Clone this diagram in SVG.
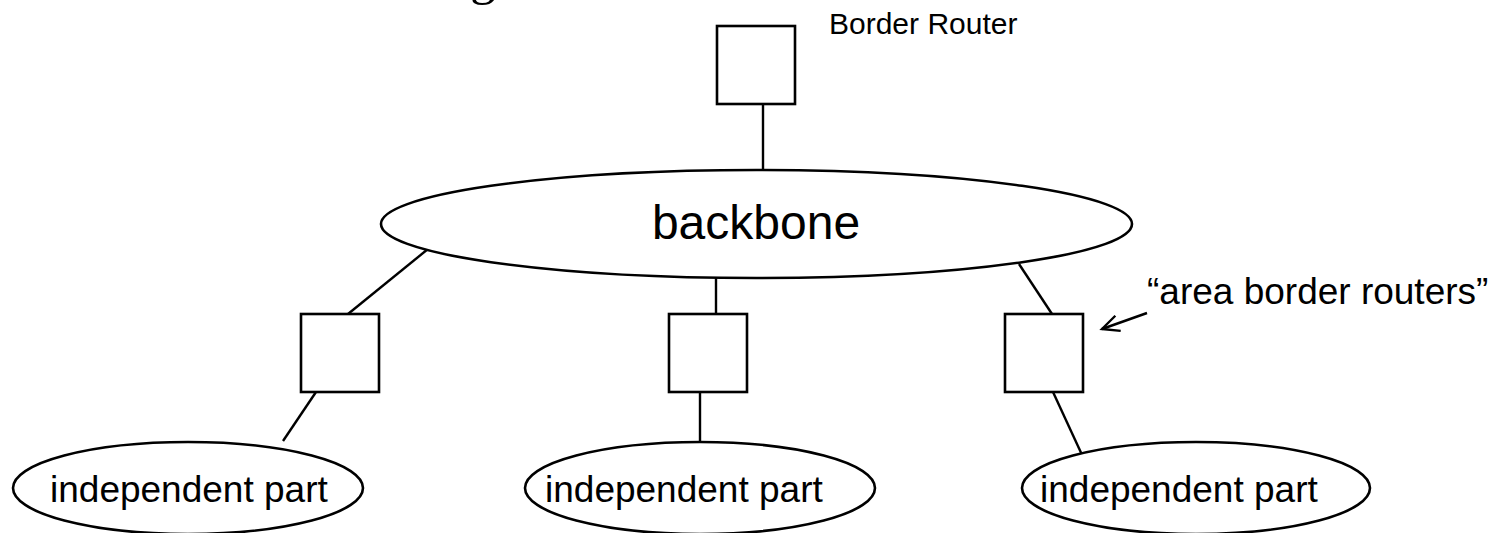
<svg xmlns="http://www.w3.org/2000/svg" width="1503" height="533" viewBox="0 0 1503 533">
  <style>
    .shape { fill: #ffffff; stroke: #000000; stroke-width: 2.6; }
    .link { stroke: #000000; stroke-width: 2.4; fill: none; }
    .label { font-family: "Liberation Sans", Arial, sans-serif; fill: #000000; }
  </style>
  <defs>
    <marker id="openArrow" viewBox="0 0 22 22" refX="19" refY="11" markerWidth="22" markerHeight="22" markerUnits="userSpaceOnUse" orient="auto">
      <path d="M2,3 L19,11 L2,19" fill="none" stroke="#000000" stroke-width="2.4"/>
    </marker>
  </defs>
  <rect width="1503" height="533" fill="#ffffff"/>

  <!-- title, clipped by the top edge -->
  <text x="470" y="-6" font-family="'Liberation Serif', 'Times New Roman', serif" font-size="52">g</text>

  <!-- connectors -->
  <g id="connectors">
    <line class="link" x1="763" y1="104" x2="763" y2="170"/>
    <line class="link" x1="428" y1="249" x2="348" y2="314"/>
    <line class="link" x1="716" y1="278" x2="716" y2="314"/>
    <line class="link" x1="1019" y1="264" x2="1052" y2="314"/>
    <line class="link" x1="316" y1="392" x2="283" y2="441"/>
    <line class="link" x1="700" y1="392" x2="700" y2="442"/>
    <line class="link" x1="1053" y1="392" x2="1083" y2="457"/>
    <line class="link" x1="1147" y1="313" x2="1102" y2="329" marker-end="url(#openArrow)"/>
  </g>

  <g id="border-router">
    <rect class="shape" x="717" y="26" width="78" height="78"/>
    <text class="label" x="829" y="34" font-size="30">Border Router</text>
  </g>

  <g id="backbone">
    <ellipse class="shape" cx="756.5" cy="224" rx="375.5" ry="54"/>
    <text class="label" x="756" y="239" font-size="48" text-anchor="middle">backbone</text>
  </g>

  <g id="abr-left">
    <rect class="shape" x="301" y="314" width="78" height="78"/>
  </g>
  <g id="abr-middle">
    <rect class="shape" x="669" y="314" width="78" height="78"/>
  </g>
  <g id="abr-right">
    <rect class="shape" x="1005" y="314" width="78" height="78"/>
  </g>

  <g id="abr-label">
    <text class="label" x="1147" y="304" font-size="37">“area border routers”</text>
  </g>

  <g id="part-left">
    <ellipse class="shape" cx="188" cy="488" rx="175" ry="46"/>
    <text class="label" x="50" y="502" font-size="37">independent part</text>
  </g>
  <g id="part-middle">
    <ellipse class="shape" cx="700" cy="488" rx="175" ry="46"/>
    <text class="label" x="545" y="502" font-size="37">independent part</text>
  </g>
  <g id="part-right">
    <ellipse class="shape" cx="1196" cy="488" rx="174" ry="46"/>
    <text class="label" x="1040" y="502" font-size="37">independent part</text>
  </g>
</svg>
